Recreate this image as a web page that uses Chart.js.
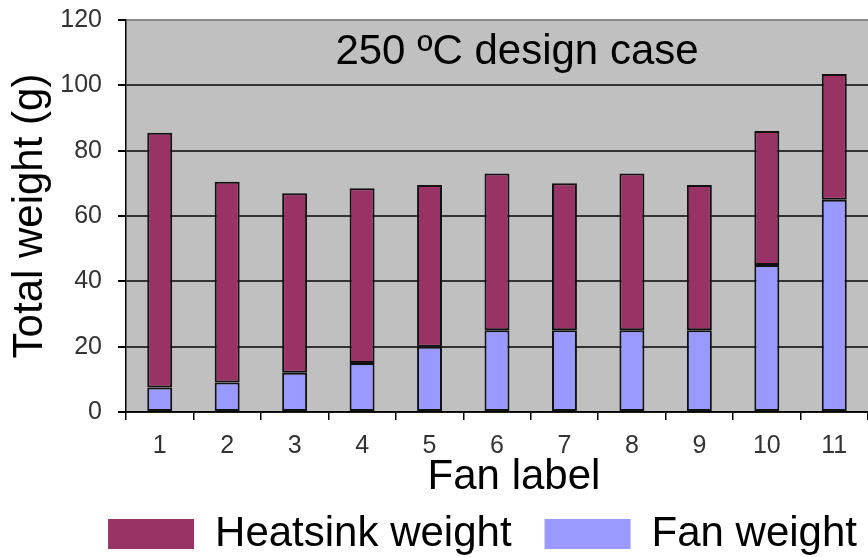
<!DOCTYPE html>
<html>
<head>
<meta charset="utf-8">
<title>250 ºC design case</title>
<script src="https://cdn.jsdelivr.net/npm/chart.js@4.4.1/dist/chart.umd.min.js"></script>
<style>
  html, body { margin: 0; padding: 0; background: #fff; }
  #wrap { width: 868px; height: 557px; position: relative; }
</style>
</head>
<body>
<div id="wrap"><canvas id="weightChart"></canvas></div>
<script>
// fan labels along the x axis
const fanLabels = ['1', '2', '3', '4', '5', '6', '7', '8', '9', '10', '11'];
// grams, stacked: fan at the bottom, heatsink on top
const fanWeight = [7.5, 9, 12, 15, 20, 25, 25, 25, 25, 45, 65];
const heatsinkWeight = [78, 61.5, 55, 53.5, 49.5, 48, 45, 48, 44.5, 41, 38.5];
const yTicks = [0, 20, 40, 60, 80, 100, 120];

const caseTitle = '250 ºC design case';
const xTitle = 'Fan label';
const FONT = "'Liberation Sans', Arial, sans-serif";

// grey plot background, the case title inside the plot and the x caption
const plotArea = {
  id: 'plotArea',
  beforeDraw(chart) {
    const { ctx, chartArea: a } = chart;
    ctx.save();
    ctx.fillStyle = '#c0c0c0';
    ctx.fillRect(a.left, a.top, a.right - a.left, a.bottom - a.top);
    ctx.restore();
  },
  afterLayout(chart) {
    // push the legend row a little to the right
    chart.legend.left += 22;
    chart.legend.right += 22;
  },
  afterDraw(chart) {
    const { ctx, chartArea: a } = chart;
    ctx.save();
    ctx.font = '42px ' + FONT;
    ctx.fillStyle = '#000';
    ctx.textAlign = 'center';
    ctx.textBaseline = 'middle';
    ctx.fillText(caseTitle, 517, a.top + 32);
    ctx.fillText(xTitle, 514, a.bottom + 65);
    ctx.restore();
  }
};

const ctx = document.getElementById('weightChart').getContext('2d');
const chart = new Chart(ctx, {
  type: 'bar',
  data: {
    labels: fanLabels,
    datasets: [{
      label: 'Fan weight',
      data: fanWeight,
      backgroundColor: '#9999ff',
      borderColor: '#111',
      borderWidth: 2,
      borderSkipped: false
    }, {
      label: 'Heatsink weight',
      data: heatsinkWeight,
      backgroundColor: '#993366',
      borderColor: '#111',
      borderWidth: 2,
      borderSkipped: false
    }]
  },
  options: {
    responsive: true,
    maintainAspectRatio: false,
    animation: false,
    barPercentage: 0.37,
    categoryPercentage: 1,
    layout: { padding: { top: 20, left: 0, right: 0, bottom: -8 } },
    plugins: {
      tooltip: { enabled: false },
      legend: {
        position: 'bottom',
        align: 'end',
        reverse: true,
        labels: {
          boxWidth: 86,
          boxHeight: 30,
          padding: 33,
          color: '#000',
          font: { family: FONT, size: 42 },
          generateLabels(c) {
            const items = Chart.defaults.plugins.legend.labels.generateLabels(c);
            items.forEach(it => { it.lineWidth = 0; it.strokeStyle = it.fillStyle; });
            return items;
          }
        }
      }
    },
    scales: {
      x: {
        stacked: true,
        afterFit(scale) { scale.height = 68; },
        border: { color: '#000', width: 1.5 },
        grid: { drawOnChartArea: false, drawTicks: true, tickLength: 8, color: '#000', lineWidth: 1.5 },
        ticks: { color: '#333', padding: 11, font: { family: FONT, size: 25 } }
      },
      y: {
        stacked: true,
        min: 0,
        max: 120,
        afterFit(scale) {
          scale.width = 126;
          scale.paddingTop = 0;
          scale.paddingBottom = 0;
        },
        afterBuildTicks(scale) { scale.ticks = yTicks.map(v => ({ value: v })); },
        border: { color: '#000', width: 1.5 },
        grid: {
          color: c => (c.tick && c.tick.value === 120 ? '#8a8a8a' : '#333'),
          lineWidth: 2,
          tickLength: 8,
          tickColor: '#000'
        },
        ticks: { color: '#333', padding: 16, font: { family: FONT, size: 25 } },
        title: {
          display: true,
          text: 'Total weight (g)',
          color: '#000',
          padding: { top: 9, bottom: 0 },
          font: { family: FONT, size: 42, lineHeight: 1 }
        }
      }
    }
  },
  plugins: [plotArea]
});
</script>
</body>
</html>
